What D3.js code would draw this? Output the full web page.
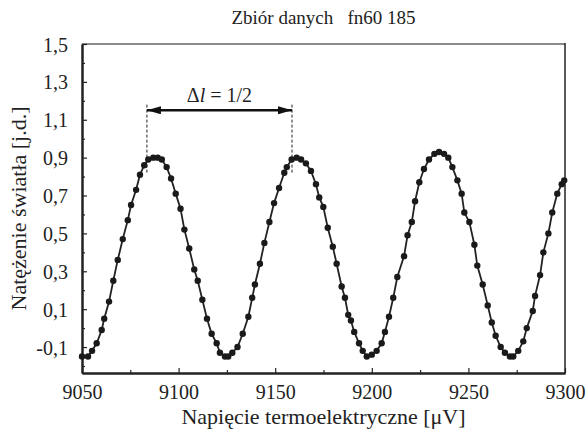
<!DOCTYPE html>
<html>
<head>
<meta charset="utf-8">
<script src="https://cdn.jsdelivr.net/npm/d3@7"></script>
<style>
  body{margin:0;background:#fff;}
</style>
</head>
<body>
<div id="chart"></div>
<script>
var width=588,height=437,
    margin={left:82,top:44,right:23,bottom:64};
var serif="'Liberation Serif','Times New Roman',serif";

// napięcie [uV]
var volts=[9050.0,9053.1,9055.2,9057.6,9060.2,9061.5,9064.0,9066.2,9068.5,9071.1,
  9073.7,9075.4,9078.0,9080.0,9082.2,9084.3,9086.9,9089.2,9091.3,9093.8,
  9096.1,9098.5,9101.0,9103.0,9105.5,9108.1,9109.9,9112.3,9114.7,9117.1,
  9119.7,9121.4,9124.0,9125.7,9127.8,9130.5,9133.2,9136.1,9138.1,9139.5,
  9142.1,9144.4,9147.0,9149.4,9152.0,9154.7,9156.0,9158.5,9161.1,9163.4,
  9165.9,9168.5,9171.1,9172.8,9174.9,9177.2,9179.8,9181.8,9184.4,9186.1,
  9187.8,9189.2,9190.9,9193.4,9195.3,9197.4,9200.0,9202.5,9205.1,9206.8,
  9208.9,9211.1,9213.2,9216.7,9218.5,9220.7,9222.4,9224.6,9227.0,9229.6,
  9232.4,9234.8,9237.4,9239.6,9241.7,9244.3,9246.5,9247.9,9250.5,9253.1,
  9254.6,9257.4,9260.0,9262.1,9264.1,9266.7,9268.9,9271.5,9273.2,9275.8,
  9278.4,9280.2,9283.3,9284.5,9287.1,9288.8,9291.4,9293.4,9296.0,9298.3,
  9299.6];
// natężenie [j.d.]
var intens=[-0.15,-0.15,-0.12,-0.08,-0.01,0.05,0.14,0.25,0.36,0.47,
  0.57,0.65,0.73,0.81,0.86,0.89,0.90,0.90,0.89,0.85,
  0.79,0.71,0.63,0.52,0.42,0.31,0.25,0.15,0.05,-0.03,
  -0.08,-0.13,-0.15,-0.15,-0.13,-0.10,-0.03,0.06,0.16,0.23,
  0.34,0.45,0.56,0.66,0.74,0.82,0.85,0.89,0.90,0.89,
  0.87,0.83,0.76,0.69,0.64,0.53,0.43,0.34,0.22,0.16,
  0.07,0.04,-0.02,-0.08,-0.12,-0.15,-0.14,-0.12,-0.08,-0.02,
  0.06,0.16,0.27,0.38,0.49,0.56,0.67,0.77,0.84,0.89,
  0.92,0.93,0.92,0.90,0.85,0.78,0.71,0.61,0.56,0.44,
  0.33,0.23,0.12,0.03,-0.04,-0.10,-0.13,-0.15,-0.15,-0.12,
  -0.07,0.00,0.09,0.17,0.28,0.40,0.50,0.61,0.71,0.76,
  0.78];

var xTicks=[9050,9100,9150,9200,9250,9300],
    xMinor=[9075,9125,9175,9225,9275],
    yTicks=[-0.1,0.1,0.3,0.5,0.7,0.9,1.1,1.3,1.5],
    yMinor=[-0.2,0.0,0.2,0.4,0.6,0.8,1.0,1.2,1.4];

// adnotacja: dwa maksima i strzałka
var dlX=[9083.6,9158.7],
    dlY=[1.18,0.82],
    arrowY=1.15;

var data=volts.map(function(v,i){return {x:v,y:intens[i]};});

var svg=d3.select('#chart')
    .append('svg')
    .attr('width',width)
    .attr('height',height);

var scale_x=d3.scaleLinear()
    .domain([9050,9300])
    .range([margin.left,width-margin.right]);
var scale_y=d3.scaleLinear()
    .domain([-0.237,1.5])
    .range([height-margin.bottom,margin.top]);

var fmt=function(v){return (v<0?'-':'')+Math.abs(v).toFixed(1).replace('.',',');};

// ramka: góra szara, prawa czarna
svg.append('line')
    .attr('x1',scale_x(9050)).attr('x2',scale_x(9300))
    .attr('y1',scale_y(1.5)).attr('y2',scale_y(1.5))
    .attr('stroke','#8a8a8a').attr('stroke-width',2);
svg.append('line')
    .attr('x1',scale_x(9300)).attr('x2',scale_x(9300))
    .attr('y1',scale_y(1.5)-1).attr('y2',scale_y(-0.237))
    .attr('stroke','#222').attr('stroke-width',1.5);

// osie
var x_axis=d3.axisBottom(scale_x).tickValues(xTicks).tickFormat(d3.format('d'))
    .tickSizeInner(-5).tickSizeOuter(0).tickPadding(12);
var x_minor=d3.axisBottom(scale_x).tickValues(xMinor).tickFormat('')
    .tickSizeInner(-3).tickSizeOuter(0);
var y_axis=d3.axisLeft(scale_y).tickValues(yTicks).tickFormat(fmt)
    .tickSizeInner(-5).tickSizeOuter(0).tickPadding(14);
var y_minor=d3.axisLeft(scale_y).tickValues(yMinor).tickFormat('')
    .tickSizeInner(-3).tickSizeOuter(0);

var gx=svg.append('g').attr('transform','translate(0,'+(height-margin.bottom)+')');
gx.call(x_minor);
gx.append('g').call(x_axis);
var gy=svg.append('g').attr('transform','translate('+margin.left+',0)');
gy.call(y_minor);
gy.append('g').call(y_axis);

svg.selectAll('.domain').attr('stroke','#222').attr('stroke-width',2);
svg.selectAll('.tick line').attr('stroke','#222').attr('stroke-width',1.2);
svg.selectAll('.tick text')
    .attr('font-family',serif)
    .attr('font-size',20)
    .attr('fill','#222');
gy.selectAll('.tick text').attr('dy','0.35em');

// krzywa i punkty
var line=d3.line()
    .x(function(d){return scale_x(d.x);})
    .y(function(d){return scale_y(d.y);});
svg.append('path')
    .datum(data)
    .attr('d',line)
    .attr('fill','none')
    .attr('stroke','#222')
    .attr('stroke-width',1.8);
svg.append('g').selectAll('circle')
    .data(data).enter()
    .append('circle')
    .attr('cx',function(d){return scale_x(d.x);})
    .attr('cy',function(d){return scale_y(d.y);})
    .attr('r',3.2)
    .attr('fill','#1a1a1a');

// adnotacja Δl
dlX.forEach(function(v){
  svg.append('line')
    .attr('x1',scale_x(v)).attr('x2',scale_x(v))
    .attr('y1',scale_y(dlY[0])).attr('y2',scale_y(dlY[1]))
    .attr('stroke','#222').attr('stroke-width',1)
    .attr('stroke-dasharray','3,2');
});
var defs=svg.append('defs');
defs.append('marker')
    .attr('id','head')
    .attr('viewBox','0 0 14 8')
    .attr('refX',14).attr('refY',4)
    .attr('markerWidth',14).attr('markerHeight',8)
    .attr('markerUnits','userSpaceOnUse')
    .attr('orient','auto-start-reverse')
    .append('path')
    .attr('d','M0,0L14,4L0,8Z')
    .attr('fill','#111');
svg.append('line')
    .attr('x1',scale_x(dlX[0])).attr('x2',scale_x(dlX[1]))
    .attr('y1',scale_y(arrowY)).attr('y2',scale_y(arrowY))
    .attr('stroke','#111').attr('stroke-width',2.5)
    .attr('marker-start','url(#head)')
    .attr('marker-end','url(#head)');
var lab=svg.append('text')
    .attr('x',scale_x((dlX[0]+dlX[1])/2))
    .attr('y',scale_y(arrowY)-8)
    .attr('text-anchor','middle')
    .attr('font-family',serif)
    .attr('font-size',20)
    .attr('fill','#222');
lab.append('tspan').text('\u0394');
lab.append('tspan').attr('font-style','italic').text('l');
lab.append('tspan').text(' = 1/2');

// tytuł i opisy osi
svg.append('text')
    .attr('x',(scale_x(9050)+scale_x(9300))/2)
    .attr('y',24)
    .attr('text-anchor','middle')
    .attr('font-family',serif)
    .attr('font-size',19)
    .attr('fill','#222')
    .style('white-space','pre')
    .text('Zbiór danych   fn60 185');
svg.append('text')
    .attr('x',(scale_x(9050)+scale_x(9300))/2)
    .attr('y',424)
    .attr('text-anchor','middle')
    .attr('font-family',serif)
    .attr('font-size',22)
    .attr('fill','#222')
    .text('Napięcie termoelektryczne [μV]');
svg.append('text')
    .attr('transform','translate(26,'+((scale_y(1.5)+scale_y(-0.237))/2)+') rotate(-90)')
    .attr('text-anchor','middle')
    .attr('font-family',serif)
    .attr('font-size',22)
    .attr('fill','#222')
    .text('Natężenie światła [j.d.]');
</script>
</body>
</html>
